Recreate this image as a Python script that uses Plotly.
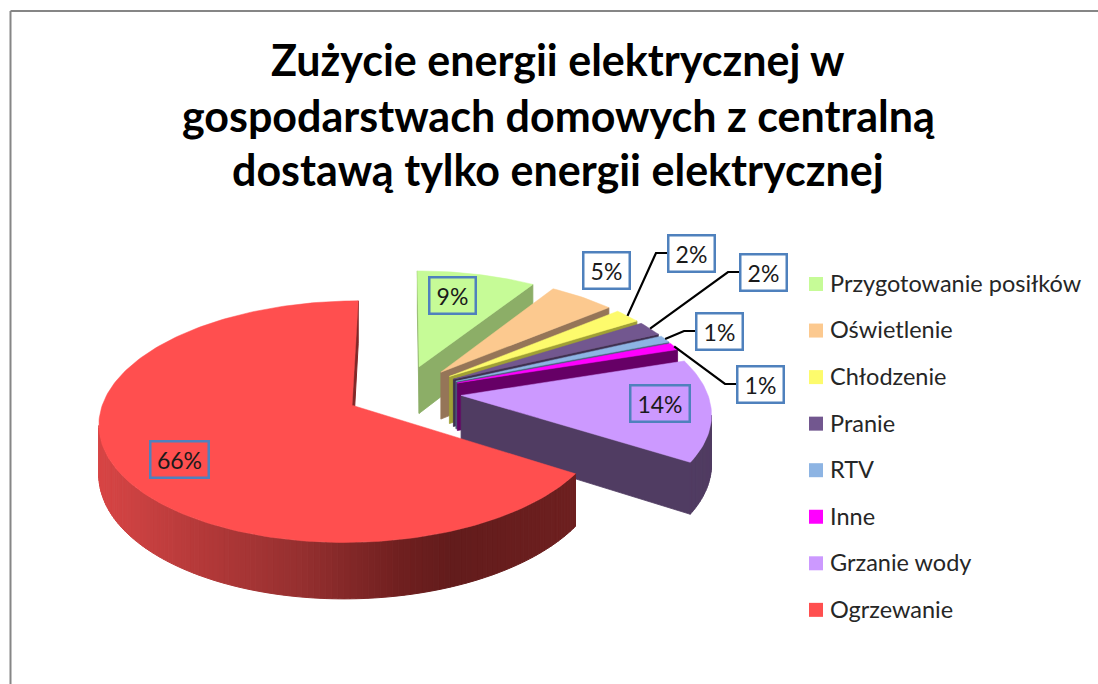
import math
import plotly.graph_objects as go

# --- data ---
categories = ["Przygotowanie posiłków", "Oświetlenie", "Chłodzenie", "Pranie",
              "RTV", "Inne", "Grzanie wody", "Ogrzewanie"]
values = [9, 5, 2, 2, 1, 1, 14, 66]
title_lines = ["Zużycie energii elektrycznej w",
               "gospodarstwach domowych z centralną",
               "dostawą tylko energii elektrycznej"]

# --- style ---
top_colors = ["#C6FB97", "#FCC98F", "#FDFB6C", "#72578F", "#8DB4E3", "#FF00FF", "#CC99FF", "#FF4F4F"]
wall_colors = ["#8CAE67", "#957558", "#A0A035", "#3F3050", "#4A5F7A", "#660066", "#503C62", None]
red_stops = [(98, (0xD8, 0x46, 0x46)), (200, (0xB5, 0x3A, 0x3A)), (300, (0x96, 0x30, 0x30)),
             (400, (0x70, 0x20, 0x20)), (450, (0x63, 0x1C, 0x1C)), (575, (0x6E, 0x20, 0x20))]

# --- layout geometry of the tilted, exploded pie (screen pixels) ---
PX, PY, A, B, K, H, EXPLODE = 403.5, 392, 246, 115, 0.134, 48, 0.235
label_centers = [(452, 295), (606, 270), (691, 253), (763, 272), (719, 331), (760, 384), (660, 403), (179, 459)]
label_widths = [48, 48, 48, 48, 48, 48, 61, 60]
leader = [False, False, True, True, True, True, False, False]
legend_x, legend_text_x, legend_y0, legend_dy, legend_text_dy = 816, 830, 284, 46.55, 2


def project(X, Y, z=0.0):
    s = 1 / (1 - K * Y)
    return PX + A * X * s, PY + (B * Y + z) * s


def world(theta, bis, r=1.0):
    return (EXPLODE * math.sin(bis) + r * math.sin(theta),
            -EXPLODE * math.cos(bis) - r * math.cos(theta))


def area(p):
    return sum(p[i][0] * p[(i + 1) % len(p)][1] - p[(i + 1) % len(p)][0] * p[i][1] for i in range(len(p)))


def red_shade(x):
    for (x0, c0), (x1, c1) in zip(red_stops, red_stops[1:]):
        if x <= x1:
            t = max(0, (x - x0) / (x1 - x0))
            return "rgb(%d,%d,%d)" % tuple(c0[i] + (c1[i] - c0[i]) * t for i in range(3))
    return "rgb(%d,%d,%d)" % red_stops[-1][1]


def poly_trace(polys, color, lw=0.8):
    xs, ys = [], []
    for p in polys:
        xs += [q[0] for q in p] + [p[0][0], None]
        ys += [q[1] for q in p] + [p[0][1], None]
    return go.Scatter(x=xs, y=ys, mode="lines", fill="toself", fillcolor=color,
                      line=dict(color=color, width=lw), hoverinfo="skip", showlegend=False)


fig = go.Figure()
total = sum(values)
start = 0.0
mids = []
for i, v in enumerate(values):
    end = start + 2 * math.pi * v / total
    bis = (start + end) / 2
    mids.append((start, end, bis))
    n = max(3, int(v * 3))
    thetas = [start + (end - start) * j / n for j in range(n + 1)]
    rim = [world(t, bis) for t in thetas]
    apex = world(0, bis, 0.0)
    flat = []
    strips = []
    # outer boundary traversed in increasing angle; keep only faces turned to the viewer
    loop = [apex] + rim + [apex]
    for a, b in zip(loop, loop[1:]):
        q = [project(*a), project(*b), project(*b, H), project(*a, H)]
        if area(q) < 0:
            if wall_colors[i] is None:
                strips.append(q)
            else:
                flat.append(q)
    if flat:
        fig.add_trace(poly_trace(flat, wall_colors[i]))
    for q in strips:
        fig.add_trace(poly_trace([q], red_shade(sum(p[0] for p in q) / 4), 1))
    top = [project(*apex)] + [project(*w) for w in rim]
    fig.add_trace(poly_trace([top], top_colors[i], 0.5))
    start = end

# leader lines: from the rim of the slice to a short stub at the label box
for i, flag in enumerate(leader):
    if flag:
        s0, e0, bis = mids[i]
        x0, y0 = project(*world(bis, bis, 1.0))
        cx, cy = label_centers[i]
        edge = cx - label_widths[i] / 2
        fig.add_trace(go.Scatter(x=[x0, edge - 11, edge], y=[y0, cy, cy], mode="lines",
                                 line=dict(color="#000000", width=2.2), hoverinfo="skip", showlegend=False))

# legend rows
for i, name in enumerate(categories):
    y = legend_y0 + i * legend_dy
    fig.add_trace(go.Scatter(x=[legend_x], y=[y], mode="markers",
                             marker=dict(symbol="square", size=14, color=top_colors[i], line=dict(width=0)),
                             hoverinfo="skip", showlegend=False))
    fig.add_trace(go.Scatter(x=[legend_text_x], y=[y + legend_text_dy], mode="text", text=[name],
                             textposition="middle right",
                             textfont=dict(family="Lato", size=23.5, color="#262626"),
                             hoverinfo="skip", showlegend=False))

anns = []
for line, y in zip(title_lines, [59, 115, 169]):
    anns.append(dict(x=558, y=y, xref="x", yref="y", text="<b>%s</b>" % line, showarrow=False,
                     xanchor="center", yanchor="middle", font=dict(family="Lato", size=43, color="#000000")))
for (cx, cy), w, v in zip(label_centers, label_widths, values):
    anns.append(dict(x=cx, y=cy, xref="x", yref="y", text="%d%%" % v, showarrow=False,
                     xanchor="center", yanchor="middle", width=w - 6, height=32, align="center", valign="middle",
                     bordercolor="#4F81BD", borderwidth=2.5, borderpad=1,
                     font=dict(family="Lato", size=23, color="#1A1A1A")))

shapes = [dict(type="line", xref="x", yref="y", x0=10.5, x1=1098, y0=11, y1=11, line=dict(color="#868686", width=2)),
          dict(type="line", xref="x", yref="y", x0=10.5, x1=10.5, y0=11, y1=684, line=dict(color="#868686", width=2))]

fig.update_layout(width=1098, height=684, margin=dict(l=0, r=0, t=0, b=0), autosize=False,
                  paper_bgcolor="#FFFFFF", plot_bgcolor="#FFFFFF", showlegend=False,
                  xaxis=dict(range=[0, 1098], visible=False, fixedrange=True),
                  yaxis=dict(range=[684, 0], visible=False, fixedrange=True),
                  annotations=anns, shapes=shapes)
fig.write_html("out.html", config=dict(displayModeBar=False),
               post_script="document.body.style.margin='0';document.documentElement.style.overflow='hidden';")
